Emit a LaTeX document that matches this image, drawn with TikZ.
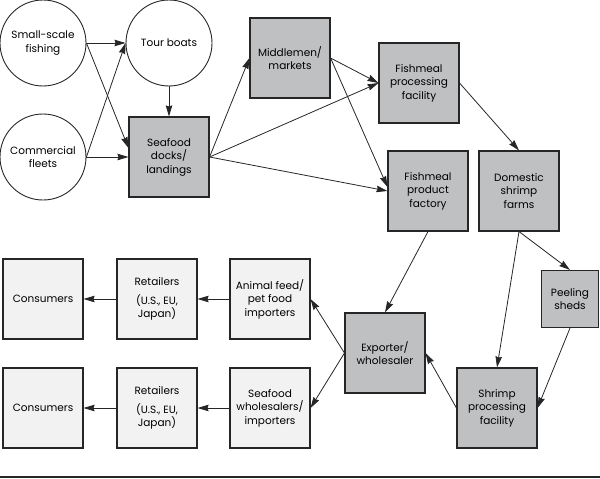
\documentclass[tikz,border=0pt]{standalone}
\usepackage{fontspec}
\setmainfont{Poppins}
\usepackage{tikz}
\usetikzlibrary{arrows.meta}
\definecolor{boxgray}{HTML}{BFC0C2}
\definecolor{boxlight}{HTML}{F2F2F2}
\definecolor{inkgray}{HTML}{262626}

\begin{document}
\begin{tikzpicture}[x=1pt,y=-1pt,
  every node/.style={align=center,font=\fontsize{10.5}{13.5}\selectfont,inner sep=1pt},
  source/.style={circle,draw=inkgray,line width=0.9pt,minimum size=86pt},
  hub/.style={rectangle,draw=inkgray,line width=1.1pt,fill=boxgray,minimum size=80pt},
  market/.style={rectangle,draw=inkgray,line width=1.1pt,fill=boxlight,minimum size=80pt},
  flow/.style={draw=inkgray,line width=0.8pt,-{Stealth[length=11pt,width=6.5pt,inset=1pt]}}]
 \useasboundingbox (0,0) rectangle (600,479);
 \node[source] (small) at (43,43) {Small-scale\\fishing};
 \node[source] (tour) at (169,43) {Tour boats};
 \node[source] (fleet) at (43,157) {Commercial\\fleets};
 \node[hub] (docks) at (169,157) {Seafood\\docks/\\landings};
 \node[hub] (middle) at (290,58) {Middlemen/\\markets};
 \node[hub] (fproc) at (419,83) {Fishmeal\\processing\\facility};
 \node[hub] (fprod) at (428,191) {Fishmeal\\product\\factory};
 \node[hub] (farms) at (519,191) {Domestic\\shrimp\\farms};
 \node[hub,minimum size=57pt] (sheds) at (570,299) {Peeling\\sheds};
 \node[hub] (export) at (385,353) {Exporter/\\wholesaler};
 \node[hub] (shrimp) at (497,408) {Shrimp\\processing\\facility};
 \node[market] (feed) at (270,299) {Animal feed/\\pet food\\importers};
 \node[market] (whole) at (270,408) {Seafood\\wholesalers/\\importers};
 \node[market] (ret1) at (157,299) {Retailers\\[5pt](U.S., EU,\\Japan)};
 \node[market] (ret2) at (157,408) {Retailers\\[5pt](U.S., EU,\\Japan)};
 \node[market] (cons1) at (43,299) {Consumers};
 \node[market] (cons2) at (43,408) {Consumers};
 \coordinate (rulel) at (0,477);
 \coordinate (ruler) at (600,477);

 \draw[flow] (small.east) -- (tour.west);
 \draw[flow] (small.east) -- ([yshift=9pt]docks.west);
 \draw[flow] (fleet.east) -- (tour.west);
 \draw[flow] (fleet.east) -- (docks.west);
 \draw[flow] (tour.south) -- (docks.north);
 \draw[flow] (docks.east) -- (middle.west);
 \draw[flow] (docks.east) -- (fproc.west);
 \draw[flow] (docks.east) -- (fprod.west);
 \draw[flow] (middle.east) -- (fproc.west);
 \draw[flow] (middle.east) -- ([yshift=4pt]fprod.west);
 \draw[flow] (fproc.east) -- (farms.north);
 \draw[flow] (fprod.south) -- (export.north);
 \draw[flow] (farms.south) -- (sheds.north);
 \draw[flow] (farms.south) -- (shrimp.north);
 \draw[flow] (sheds.south) -- (shrimp.east);
 \draw[flow] (shrimp.west) -- (export.east);
 \draw[flow] (export.west) -- (feed.east);
 \draw[flow] (export.west) -- (whole.east);
 \draw[flow] (feed.west) -- (ret1.east);
 \draw[flow] (ret1.west) -- (cons1.east);
 \draw[flow] (whole.west) -- (ret2.east);
 \draw[flow] (ret2.west) -- (cons2.east);
 \draw[inkgray,line width=1.2pt] (rulel) -- (ruler);
\end{tikzpicture}
\end{document}
